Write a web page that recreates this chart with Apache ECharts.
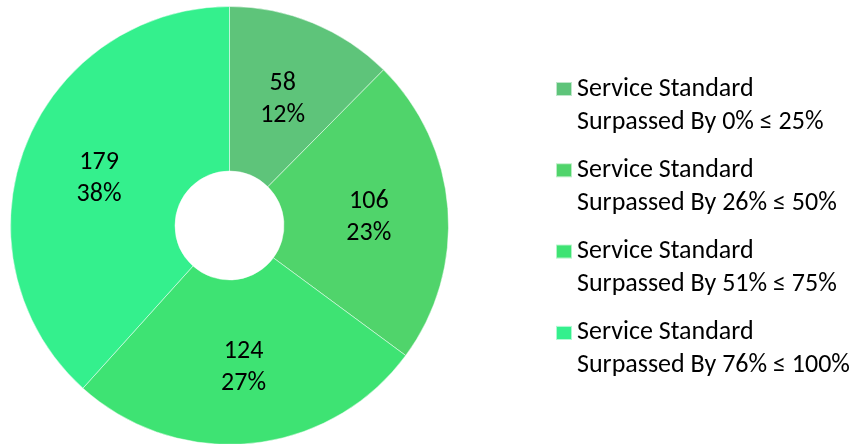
<!DOCTYPE html>
<html>
<head>
<meta charset="utf-8">
<style>
  html, body { margin: 0; padding: 0; background: #fff; }
  #chart { width: 856px; height: 444px; }
</style>
<script src="https://cdn.jsdelivr.net/npm/echarts@6/dist/echarts.min.js"></script>
</head>
<body>
<div id="chart"></div>
<script>
const categories = [
  'Service Standard\nSurpassed By 0% ≤ 25%',
  'Service Standard\nSurpassed By 26% ≤ 50%',
  'Service Standard\nSurpassed By 51% ≤ 75%',
  'Service Standard\nSurpassed By 76% ≤ 100%'
];
const counts = [58, 106, 124, 179];
const colors = ['#5ec47a', '#50d46b', '#3ee373', '#34f08d'];

const fontFamily = 'Carlito, "Open Sans", "Noto Sans", sans-serif';
const lineH = 33;

// blank first line so the icon sits level with the first text line
function legendText(name){
  return '{e| }\n' + name.split('\n').map(s => '{t|' + s + '}').join('\n');
}

const chart = echarts.init(document.getElementById('chart'), null, { renderer: 'canvas' });
chart.setOption({
  animation: false,
  color: colors,
  legend: {
    orient: 'vertical',
    left: 555,
    top: 92.5 - 1.5 * lineH,
    padding: 0,
    icon: 'rect',
    itemWidth: 16,
    itemHeight: 14,
    itemGap: 88.3 - 3 * lineH,
    formatter: legendText,
    textStyle: {
      fontFamily: fontFamily,
      fontSize: 26,
      color: '#000',
      rich: {
        e: { fontSize: 26, lineHeight: lineH, fontFamily: fontFamily },
        t: { fontSize: 26, lineHeight: lineH, fontFamily: fontFamily, color: '#000' }
      }
    },
    data: categories
  },
  series: [{
    type: 'pie',
    center: [229.5, 225.5],
    radius: [54.5, 219],
    startAngle: 90,
    clockwise: true,
    percentPrecision: 0,
    itemStyle: { borderColor: 'rgba(255,255,255,0.6)', borderWidth: 0.8 },
    label: {
      position: 'inside',
      formatter: '{c}\n{d}%',
      fontFamily: fontFamily,
      fontSize: 26,
      lineHeight: 32,
      offset: [0, 3],
      color: '#000'
    },
    labelLine: { show: false },
    emphasis: { disabled: true },
    data: categories.map((name, i) => ({ name: name, value: counts[i] }))
  }]
});
</script>
</body>
</html>
